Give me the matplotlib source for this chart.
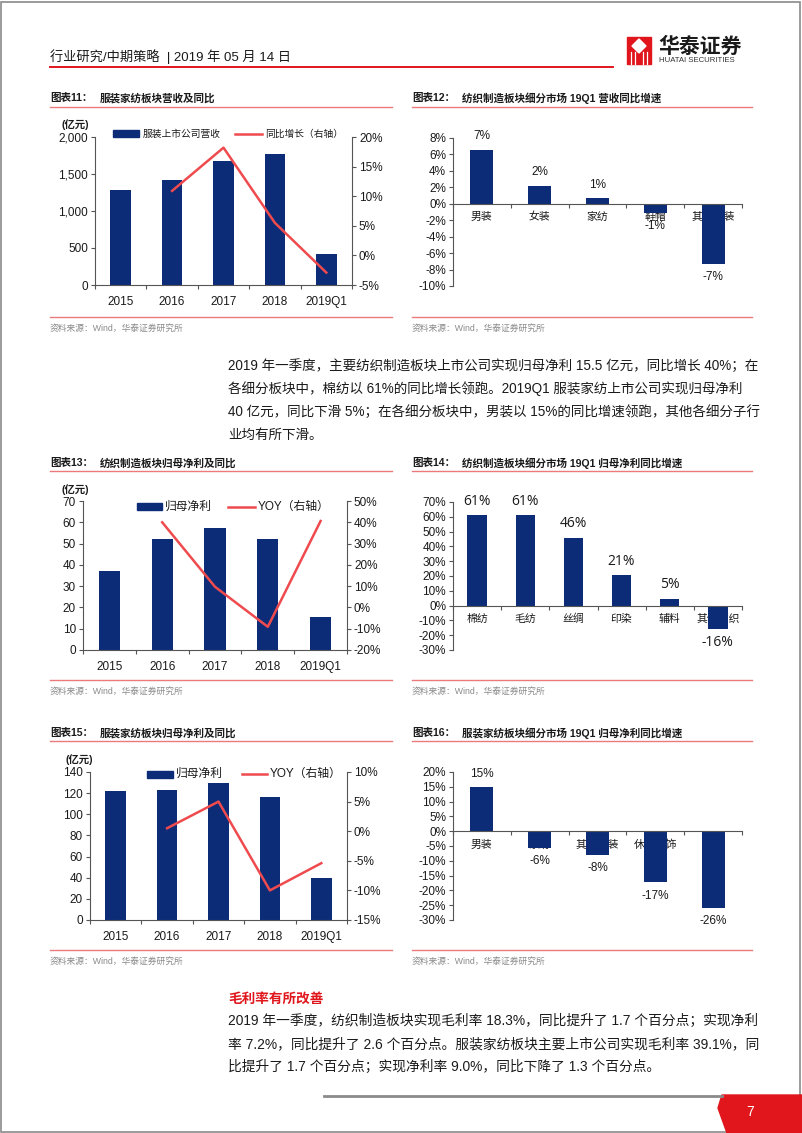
import matplotlib
matplotlib.use("Agg")
import matplotlib.pyplot as plt
from matplotlib.patches import Rectangle, Polygon
from matplotlib.lines import Line2D
from matplotlib.ticker import FuncFormatter, MultipleLocator, FixedLocator

plt.rcParams['font.family'] = ['Liberation Sans', 'Noto Sans CJK SC']
plt.rcParams['axes.unicode_minus'] = False

# ---------------- data ----------------
years = ['2015', '2016', '2017', '2018', '2019Q1']

# chart 11
rev_apparel = [1280, 1420, 1675, 1775, 420]
rev_apparel_yoy = [None, 10.9, 18.2, 5.5, -2.9]

# chart 12
c12_cats = ['男装', '女装', '家纺', '鞋帽', '其他服装']
c12_vals = [6.6, 2.2, 0.7, -1.15, -7.3]

# chart 13
np_textile = [37.3, 52.1, 57.2, 52.1, 15.5]
np_textile_yoy = [None, 40.0, 9.7, -9.1, 40.6]

# chart 14
c14_cats = ['棉纺', '毛纺', '丝绸', '印染', '辅料', '其他纺织']
c14_vals = [61, 61, 46, 20.7, 4.6, -15.8]

# chart 15
np_apparel = [122.3, 123.0, 129.3, 116.0, 40.0]
np_apparel_yoy = [None, 0.5, 5.0, -10.0, -5.4]

# chart 16
c16_cats = ['男装', '家纺', '其他服装', '休闲服饰', '鞋帽']
c16_vals = [15, -5.6, -8.1, -17.3, -25.8]

# ---------------- style ----------------
W, H = 802, 1133
NAVY = '#0D2C78'
LRED = '#EF4B4E'
HRED = '#E0161C'
SEP = '#EC7A7B'
TXT = '#1a1a1a'

fig = plt.figure(figsize=(W / 100, H / 100), dpi=100)
fig.patch.set_facecolor('white')


def fx(x):
    return x / W


def fy(y):
    return 1 - y / H


def add_ax(l, t, r, b):
    return fig.add_axes([l / W, 1 - b / H, (r - l) / W, (b - t) / H])


def T(x, y, s, **kw):
    kw.setdefault('va', 'center')
    kw.setdefault('ha', 'left')
    kw.setdefault('color', TXT)
    fig.text(fx(x), fy(y), s, **kw)


def HL(x0, x1, y, color, lw):
    fig.add_artist(Line2D([fx(x0), fx(x1)], [fy(y), fy(y)], color=color, lw=lw))


# page border
fig.add_artist(Rectangle((0.001, 0.001), 0.997, 0.997, fill=False, ec='#8a8a8a', lw=1.2))

# header
T(50, 57, '行业研究/中期策略  | 2019 年 05 月 14 日', fontsize=9.5)
HL(50, 613, 67, HRED, 1.4)
# logo
fig.add_artist(Rectangle((fx(627), fy(64)), 24 / W, 27 / H, color=HRED))
fig.add_artist(Polygon([(fx(639), fy(39)), (fx(646), fy(46)), (fx(639), fy(53)), (fx(632), fy(46))],
                       closed=True, color='white'))
for xx in (631, 635, 643, 647):
    fig.add_artist(Line2D([fx(xx), fx(xx)], [fy(52), fy(64)], color='white', lw=0.9))
T(658, 46, '华泰证券', fontsize=15, fontweight='bold', family=['Noto Sans CJK SC'])
T(659, 61, 'HUATAI SECURITIES', fontsize=5.6, color='#333333')

# ---------------- helpers ----------------

def title(x, y, num, s, lx0, lx1, ly):
    T(x, y, f'图表{num}：', fontsize=7.6, fontweight='bold')
    T(x + 50, y, s, fontsize=7.6, fontweight='bold')
    HL(lx0, lx1, ly, SEP, 1.0)


def source(x, y, lx0, lx1, ly):
    HL(lx0, lx1, ly, SEP, 1.0)
    T(x, y + 11, '资料来源：Wind，华泰证券研究所', fontsize=6.3, color='#8a8a8a')


def style_axis(ax):
    for s in ('top', 'right'):
        ax.spines[s].set_visible(False)
    for s in ('left', 'bottom'):
        ax.spines[s].set_color('#555555')
        ax.spines[s].set_linewidth(0.8)
    ax.tick_params(axis='y', length=3, width=0.8, color='#555555', labelsize=8.5, pad=2, labelcolor=TXT)


def combo(rect, vals, yoy, ylim, ystep, yfmt, rlim, rstep, unit_xy, legend, lbl):
    ax = add_ax(*rect)
    n = len(years)
    x = list(range(n))
    ax.bar(x, vals, width=0.4, color=NAVY, zorder=2)
    ax.set_xlim(-0.5, n - 0.5)
    ax.set_ylim(*ylim)
    ax.yaxis.set_major_locator(MultipleLocator(ystep))
    ax.yaxis.set_major_formatter(FuncFormatter(yfmt))
    style_axis(ax)
    ax.set_xticks(x)
    ax.set_xticklabels(years, fontsize=8.5, color=TXT)
    ax.xaxis.set_minor_locator(FixedLocator([i - 0.5 for i in range(n + 1)]))
    ax.tick_params(axis='x', which='major', length=0, pad=8)
    ax.tick_params(axis='x', which='minor', length=3, width=0.8, color='#555555')
    ax2 = ax.twinx()
    xs = [i for i, v in zip(x, yoy) if v is not None]
    ys = [v for v in yoy if v is not None]
    ax2.plot(xs, ys, color=LRED, lw=1.8, zorder=3)
    ax2.set_ylim(*rlim)
    ax2.yaxis.set_major_locator(MultipleLocator(rstep))
    ax2.yaxis.set_major_formatter(FuncFormatter(lambda v, p: f'{v:.0f}%'))
    for s in ('top', 'left', 'bottom'):
        ax2.spines[s].set_visible(False)
    ax2.spines['right'].set_color('#555555')
    ax2.spines['right'].set_linewidth(0.8)
    ax2.tick_params(axis='y', length=3, width=0.8, color='#555555', labelsize=8.5, pad=2, labelcolor=TXT)
    T(unit_xy[0], unit_xy[1], '(亿元)', fontsize=7.5, fontweight='bold')
    (px0, px1, py, tx0), (lx0, lx1, tx1) = legend
    fig.add_artist(Rectangle((fx(px0), fy(py + 3.5)), (px1 - px0) / W, 7 / H, color=NAVY))
    T(tx0, py, lbl[0], fontsize=lbl[2])
    fig.add_artist(Line2D([fx(lx0), fx(lx1)], [fy(py), fy(py)], color=LRED, lw=1.8))
    T(tx1, py, lbl[1], fontsize=lbl[2])
    return ax


def seg(rect, cats, vals, ylim, ystep, lblsize, lblfont, off):
    ax = add_ax(*rect)
    n = len(cats)
    x = list(range(n))
    ax.bar(x, vals, width=0.4, color=NAVY, zorder=2)
    ax.set_xlim(-0.5, n - 0.5)
    ax.set_ylim(*ylim)
    ax.yaxis.set_major_locator(MultipleLocator(ystep))
    ax.yaxis.set_major_formatter(FuncFormatter(lambda v, p: f'{v:.0f}%'))
    style_axis(ax)
    ax.spines['bottom'].set_position(('data', 0))
    ax.set_xticks(x)
    ax.set_xticklabels(cats, fontsize=7.8, color=TXT, zorder=5)
    ax.xaxis.set_minor_locator(FixedLocator([i - 0.5 for i in range(n + 1)]))
    ax.tick_params(axis='x', which='major', length=0, pad=6)
    ax.tick_params(axis='x', which='minor', length=3, width=0.8, color='#555555')
    for xi, v in zip(x, vals):
        ax.annotate(f'{round(v + (0.001 if v > 0 else -0.001)):.0f}%', (xi, v),
                    xytext=(0, off if v >= 0 else -off), textcoords='offset points',
                    ha='center', va='center', fontsize=lblsize, color=TXT, family=lblfont)
    return ax


# ---------------- chart 11 ----------------
title(50, 98, '11', '服装家纺板块营收及同比', 50, 392, 107)
combo((95, 137, 352, 285), rev_apparel, rev_apparel_yoy, (0, 2000), 500,
      lambda v, p: f'{v:,.0f}', (-5, 20), 5, (62, 125),
      ((113, 139, 134, 143), (235, 262, 265)),
      ('服装上市公司营收', '同比增长（右轴）', 7))
source(50, 317, 50, 392, 317)

# ---------------- chart 12 ----------------
title(412, 98, '12', '纺织制造板块细分市场 19Q1 营收同比增速', 412, 752, 107)
seg((453, 138, 742, 286), c12_cats, c12_vals, (-10, 8), 2, 8.5, ['Liberation Sans'], 9.5)
source(412, 317, 412, 752, 317)

# ---------------- chart 13 ----------------
title(50, 463, '13', '纺织制造板块归母净利及同比', 50, 392, 471)
combo((83, 501, 347, 650), np_textile, np_textile_yoy, (0, 70), 10,
      lambda v, p: f'{v:.0f}', (-20, 50), 10, (62, 490),
      ((137, 162, 507, 165), (228, 255, 258)),
      ('归母净利', 'YOY（右轴）', 8.5))
source(50, 680, 50, 392, 680)

# ---------------- chart 14 ----------------
title(412, 463, '14', '纺织制造板块细分市场 19Q1 归母净利同比增速', 412, 752, 471)
seg((453, 502, 742, 650), c14_cats, c14_vals, (-30, 70), 10, 10, ['Open Sans'], 10)
source(412, 680, 412, 752, 680)

# ---------------- chart 15 ----------------
title(50, 733, '15', '服装家纺板块归母净利及同比', 50, 392, 741)
combo((90, 772, 347, 920), np_apparel, np_apparel_yoy, (0, 140), 20,
      lambda v, p: f'{v:.0f}', (-15, 10), 5, (65, 760),
      ((147, 173, 774, 176), (242, 267, 270)),
      ('归母净利', 'YOY（右轴）', 8.5))
source(50, 950, 50, 392, 950)

# ---------------- chart 16 ----------------
title(412, 733, '16', '服装家纺板块细分市场 19Q1 归母净利同比增速', 412, 752, 741)
seg((453, 772, 742, 920), c16_cats, c16_vals, (-30, 20), 5, 8.5, ['Liberation Sans'], 9.5)
source(412, 950, 412, 752, 950)

# ---------------- body text ----------------
para1 = ['2019 年一季度，主要纺织制造板块上市公司实现归母净利 15.5 亿元，同比增长 40%；在',
         '各细分板块中，棉纺以 61%的同比增长领跑。2019Q1 服装家纺上市公司实现归母净利',
         '40 亿元，同比下滑 5%；在各细分板块中，男装以 15%的同比增速领跑，其他各细分子行',
         '业均有所下滑。']
for i, s in enumerate(para1):
    T(228, 366 + 23 * i, s, fontsize=9.75)

T(228, 999, '毛利率有所改善', fontsize=9.8, fontweight='bold', color='#E0161C')
para2 = ['2019 年一季度，纺织制造板块实现毛利率 18.3%，同比提升了 1.7 个百分点；实现净利',
         '率 7.2%，同比提升了 2.6 个百分点。服装家纺板块主要上市公司实现毛利率 39.1%，同',
         '比提升了 1.7 个百分点；实现净利率 9.0%，同比下降了 1.3 个百分点。']
for i, s in enumerate(para2):
    T(228, 1021 + 23 * i, s, fontsize=9.9)

# footer
HL(324, 722, 1096, '#8a8a8a', 2.0)
fig.add_artist(Polygon([(fx(722), fy(1095)), (fx(802), fy(1095)), (fx(802), fy(1133)),
                        (fx(727), fy(1133)), (fx(718), fy(1108))], closed=True, color=HRED))
T(750, 1112, '7', fontsize=10, color='white', ha='center')

fig.savefig('out.png', dpi=100, facecolor='white')
